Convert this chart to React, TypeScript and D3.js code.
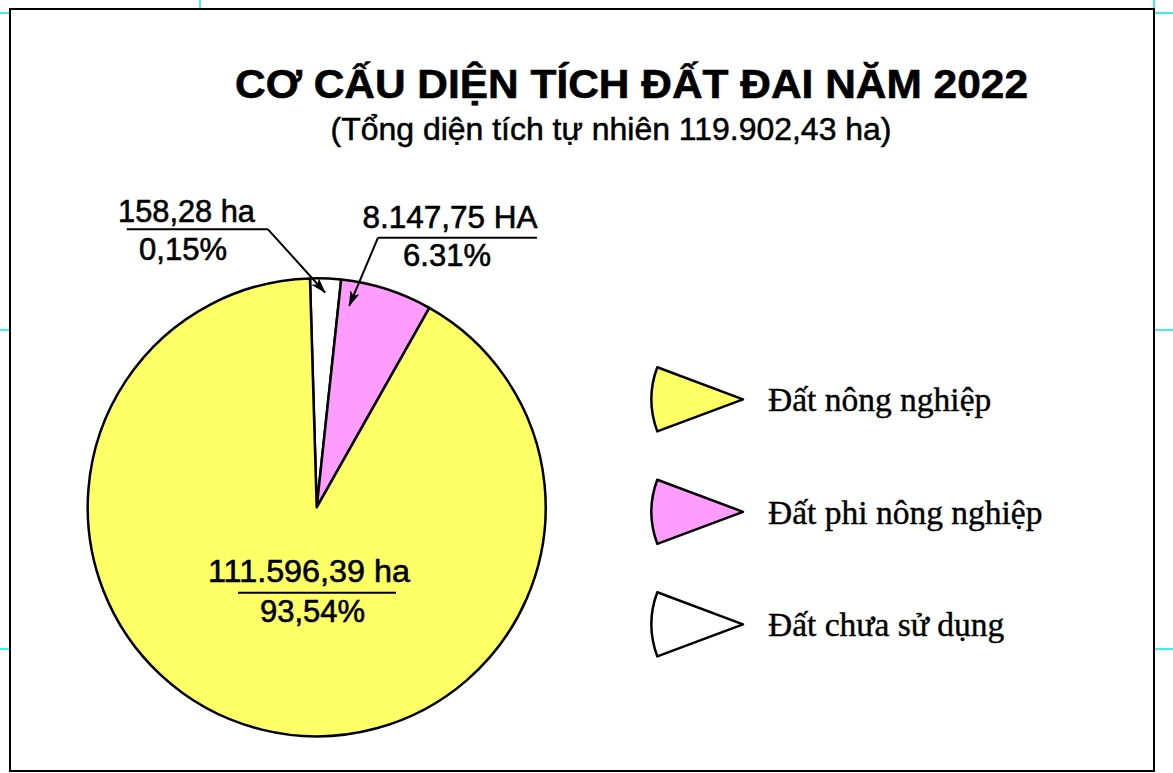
import React from "react";
import * as d3 from "d3";

// ---- Data ----
const categories = ["Đất nông nghiệp", "Đất phi nông nghiệp", "Đất chưa sử dụng"];
const areaLabels = ["111.596,39 ha", "8.147,75 HA", "158,28 ha"];
const percentLabels = ["93,54%", "6.31%", "0,15%"];
// slice sizes as they are drawn in the picture (percent of the full circle)
const drawnShare = [91.34, 6.48, 2.17];
const sliceColors = ["#FFFF66", "#FF9CFF", "#FFFFFF"];
const titleText = "CƠ CẤU DIỆN TÍCH ĐẤT ĐAI NĂM 2022";
const subtitleText = "(Tổng diện tích tự nhiên 119.902,43 ha)";

const W = 1173;
const H = 773;
const cx = 316.7;
const cy = 507.3;
const R = 229;
const startDeg = -1.68;

export default function App() {
  // clockwise order from just left of 12 o'clock: white, pink, yellow
  const order = [2, 1, 0];
  const start = (startDeg * Math.PI) / 180;
  const pie = d3
    .pie<number>()
    .sort(null)
    .value((i) => drawnShare[i])
    .startAngle(start)
    .endAngle(start + 2 * Math.PI);
  const arcs = pie(order);
  const arcGen = d3.arc<any>().innerRadius(0).outerRadius(R);
  const byIdx: Record<number, any> = {};
  arcs.forEach((a) => (byIdx[a.data] = a));

  const pt = (ang: number, r: number) => [cx + r * Math.sin(ang), cy - r * Math.cos(ang)];
  const wA = byIdx[2];
  const pA = byIdx[1];
  const whiteTip = pt((wA.startAngle + wA.endAngle) / 2, 215);
  const pinkTip = pt(pA.startAngle + 0.13 * (pA.endAngle - pA.startAngle), 204);

  // legend
  const legendY = d3.scaleLinear().domain([0, 2]).range([399.3, 624.3]);
  const legendTipX = 743;
  const half = (20.5 * Math.PI) / 180;
  const wedge = d3
    .arc<any>()
    .innerRadius(0)
    .outerRadius(91.5)
    .startAngle(-Math.PI / 2 - half)
    .endAngle(-Math.PI / 2 + half);

  const sans = "'Liberation Sans', Arial, sans-serif";
  const serif = "'Liberation Serif', 'Times New Roman', serif";

  const cyanMarks = [
    [200, 0, 200, 9],
    [1154, 0, 1154, 9],
    [0, 13, 10, 13],
    [1154, 13, 1173, 13],
    [0, 330, 10, 330],
    [1154, 330, 1173, 330],
    [0, 649, 10, 649],
    [1154, 649, 1173, 649],
  ];

  return (
    <svg
      width={W}
      height={H}
      style={{ position: "absolute", left: 0, top: 0, background: "#fff" }}
    >
      <defs>
        <marker
          id="arr"
          viewBox="0 0 16 10"
          refX="15"
          refY="5"
          markerWidth="16"
          markerHeight="10"
          markerUnits="userSpaceOnUse"
          orient="auto"
        >
          <path d="M0,0 L16,5 L0,10 L4,5 Z" fill="#000" />
        </marker>
      </defs>
      <rect x={0} y={0} width={W} height={H} fill="#fff" />
      {cyanMarks.map((m, i) => (
        <line key={i} x1={m[0]} y1={m[1]} x2={m[2]} y2={m[3]} stroke="#00E5EE" strokeWidth={1.5} />
      ))}
      <rect x={10} y={9} width={1144} height={762} fill="none" stroke="#000" strokeWidth={2} />

      <text
        x={631.5}
        y={98}
        textAnchor="middle"
        fontFamily={sans}
        fontWeight="bold"
        fontSize={40}
        textLength={793}
        lengthAdjust="spacingAndGlyphs"
        stroke="#000"
        strokeWidth={0.6}
      >
        {titleText}
      </text>
      <text
        x={611}
        y={140}
        textAnchor="middle"
        fontFamily={sans}
        fontSize={31}
        textLength={561}
        lengthAdjust="spacingAndGlyphs"
        stroke="#000"
        strokeWidth={0.5}
      >
        {subtitleText}
      </text>

      <g transform={`translate(${cx},${cy})`}>
        {arcs.map((a) => (
          <path
            key={a.data}
            d={arcGen(a) as string}
            fill={sliceColors[a.data]}
            stroke="#000"
            strokeWidth={2.5}
            strokeLinejoin="round"
          />
        ))}
      </g>

      <g fontFamily={sans} fontSize={31} fill="#000">
        <g stroke="#000" strokeWidth={0.6}>
          {/* Agricultural land label (inside) */}
          <text x={309} y={581.7} textAnchor="middle" textLength={202} lengthAdjust="spacingAndGlyphs">
            {areaLabels[0]}
          </text>
          <text x={312.5} y={621.7} textAnchor="middle">
            {percentLabels[0]}
          </text>
          {/* Non-agricultural land */}
          <text x={450} y={228} textAnchor="middle" textLength={175} lengthAdjust="spacingAndGlyphs">
            {areaLabels[1]}
          </text>
          <text x={447} y={266} textAnchor="middle">
            {percentLabels[1]}
          </text>
          {/* Unused land */}
          <text x={186.5} y={222} textAnchor="middle" textLength={137} lengthAdjust="spacingAndGlyphs">
            {areaLabels[2]}
          </text>
          <text x={183} y={260} textAnchor="middle">
            {percentLabels[2]}
          </text>
        </g>
        <line x1={238} y1={592.7} x2={396} y2={592.7} stroke="#000" strokeWidth={2} />
        <line x1={378} y1={237.7} x2={537} y2={237.7} stroke="#000" strokeWidth={2} />
        <line
          x1={378}
          y1={237.7}
          x2={pinkTip[0]}
          y2={pinkTip[1]}
          stroke="#000"
          strokeWidth={2}
          markerEnd="url(#arr)"
        />
        <line x1={126.7} y1={229.3} x2={268} y2={229.3} stroke="#000" strokeWidth={2} />
        <line
          x1={268}
          y1={229.3}
          x2={whiteTip[0]}
          y2={whiteTip[1]}
          stroke="#000"
          strokeWidth={2}
          markerEnd="url(#arr)"
        />
      </g>

      {/* Legend */}
      {categories.map((c, i) => {
        const y = legendY(i);
        return (
          <g key={c}>
            <path
              d={wedge({}) as string}
              transform={`translate(${legendTipX},${y})`}
              fill={sliceColors[i]}
              stroke="#000"
              strokeWidth={2.5}
              strokeLinejoin="round"
            />
            <text
              x={768}
              y={y + 12}
              fontFamily={serif}
              fontSize={33.5}
              fill="#000"
              stroke="#000"
              strokeWidth={0.4}
            >
              {c}
            </text>
          </g>
        );
      })}
    </svg>
  );
}
